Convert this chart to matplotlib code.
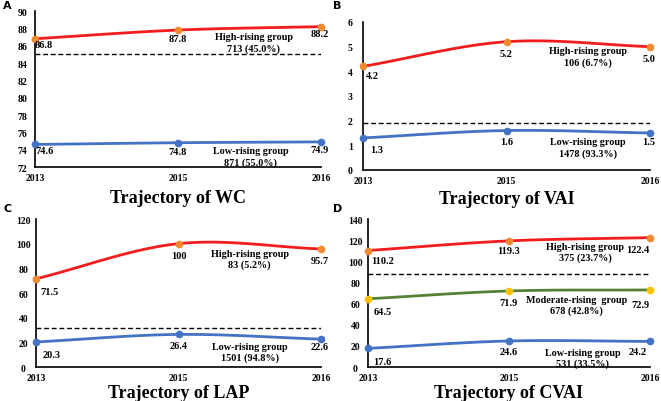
import numpy as np
import matplotlib
matplotlib.use("Agg")
import matplotlib.pyplot as plt

years = ["2013", "2015", "2016"]

wc_high = [86.8, 87.8, 88.2]
wc_low = [74.6, 74.8, 74.9]
vai_high = [4.2, 5.2, 5.0]
vai_low = [1.3, 1.6, 1.5]
lap_high = [71.5, 100, 95.7]
lap_low = [20.3, 26.4, 22.6]
cvai_high = [110.2, 119.3, 122.4]
cvai_mod = [64.5, 71.9, 72.9]
cvai_low = [17.6, 24.6, 24.2]

wc_groups = ["High-rising group\n713 (45.0%)", "Low-rising group\n871 (55.0%)"]
vai_groups = ["High-rising group\n106 (6.7%)", "Low-rising group\n1478 (93.3%)"]
lap_groups = ["High-rising group\n83 (5.2%)", "Low-rising group\n1501 (94.8%)"]
cvai_groups = ["High-rising group\n375 (23.7%)", "Moderate-rising  group\n678 (42.8%)",
               "Low-rising group\n531 (33.5%)"]

cutoffs = {"WC": 85, "VAI": 1.9, "LAP": 31.5, "CVAI": 88}

SERIF = "Liberation Serif"
RED = "#f21c1c"
ORANGE = "#f08a30"
BLUE = "#4472c4"
GREEN = "#548235"
YELLOW = "#ffc000"

W, H = 661, 402
fig = plt.figure(figsize=(W / 100, H / 100), dpi=100)


def smooth(xs, ys, n=40):
    xs = np.asarray(xs, float)
    ys = np.asarray(ys, float)
    P = np.stack([xs, ys], axis=1)
    k = len(P)
    T = np.zeros_like(P)
    for i in range(k):
        if i == 0:
            T[i] = (P[1] - P[0])
        elif i == k - 1:
            T[i] = (P[-1] - P[-2])
        else:
            T[i] = (P[i + 1] - P[i - 1]) / 2
    out = []
    t = np.linspace(0, 1, n)
    h00 = 2 * t**3 - 3 * t**2 + 1
    h10 = t**3 - 2 * t**2 + t
    h01 = -2 * t**3 + 3 * t**2
    h11 = t**3 - t**2
    for i in range(k - 1):
        seg = (h00[:, None] * P[i] + h10[:, None] * T[i]
               + h01[:, None] * P[i + 1] + h11[:, None] * T[i + 1])
        out.append(seg)
    out = np.concatenate(out)
    return out[:, 0], out[:, 1]


def make_ax(px_left, px_top, px_right, px_bottom):
    return fig.add_axes([px_left / W, 1 - px_bottom / H,
                         (px_right - px_left) / W, (px_bottom - px_top) / H])


def style(ax, ylim, yticks, title, letter, title_y, letter_xy):
    ax.set_xlim(0, 2)
    ax.set_ylim(*ylim)
    ax.set_yticks(yticks)
    ax.set_xticks([0, 1, 2])
    ax.set_xticklabels(years)
    for s in ["top", "right"]:
        ax.spines[s].set_visible(False)
    for s in ["left", "bottom"]:
        ax.spines[s].set_linewidth(1.2)
    ax.tick_params(length=0)
    for lab in ax.get_xticklabels() + ax.get_yticklabels():
        lab.set_fontfamily(SERIF)
        lab.set_fontweight("bold")
        lab.set_fontsize(7)
    ax.tick_params(axis="x", pad=4)
    ax.tick_params(axis="y", pad=9)
    for lab in ax.get_yticklabels():
        lab.set_horizontalalignment("center")
    bb = ax.get_position()
    fig.text(bb.x0 + bb.width / 2, 1 - title_y / H, title, ha="center", va="center",
             fontfamily=SERIF, fontweight="bold", fontsize=13)
    fig.text(letter_xy[0] / W, 1 - letter_xy[1] / H, letter, ha="left", va="center",
             fontfamily="DejaVu Sans", fontweight="bold", fontsize=8)


def series(ax, vals, lc, mc, offsets):
    x = np.arange(len(vals))
    sx, sy = smooth(x, vals)
    ax.plot(sx, sy, color=lc, lw=2.0, solid_capstyle="round", zorder=3, clip_on=False)
    ax.plot(x, vals, "o", color=mc, ms=4.5, zorder=4, clip_on=False)
    for xi, v, (dx, dy, ha) in zip(x, vals, offsets):
        txt = f"{v:g}" if v == int(v) and v >= 100 else f"{v:.1f}"
        ax.annotate(txt, (xi, v), xytext=(dx, dy), textcoords="offset points",
                    ha=ha, va="top", fontfamily=SERIF, fontweight="bold", fontsize=7.5,
                    zorder=5, annotation_clip=False)


def group_label(ax, x, y, text):
    ax.text(x, y, text, ha="center", va="center", fontfamily=SERIF,
            fontweight="bold", fontsize=7.3, linespacing=1.3, zorder=5)


def cutoff(ax, y):
    ax.axhline(y, color="black", lw=1.0, ls=(0, (3.5, 2)), zorder=2)


# Panel A
axA = make_ax(35, 12, 321, 168)
style(axA, (72, 90), range(72, 91, 2), "Trajectory of WC", "A", 199, (3, 6))
cutoff(axA, cutoffs["WC"])
series(axA, wc_high, RED, ORANGE, [(0, -1, "left"), (0, -3, "center"), (-1, -2, "center")])
series(axA, wc_low, BLUE, BLUE, [(0, -1, "left"), (0, -3, "center"), (-1, -2, "center")])
group_label(axA, 1.53, 86.4, wc_groups[0])
group_label(axA, 1.51, 73.2, wc_groups[1])

# Panel B
axB = make_ax(363, 23, 650, 171)
style(axB, (0, 6), range(0, 7), "Trajectory of VAI", "B", 200, (333, 6))
cutoff(axB, cutoffs["VAI"])
series(axB, vai_high, RED, ORANGE, [(2, -3, "left"), (0, -5, "center"), (-1, -5, "center")])
series(axB, vai_low, BLUE, BLUE, [(5, -5, "left"), (0, -5, "center"), (-1, -3, "center")])
group_label(axB, 1.57, 4.6, vai_groups[0])
group_label(axB, 1.57, 0.9, vai_groups[1])

# Panel C
axC = make_ax(36, 220, 321, 368)
style(axC, (0, 120), range(0, 121, 20), "Trajectory of LAP", "C", 394, (3, 209))
cutoff(axC, cutoffs["LAP"])
series(axC, lap_high, RED, ORANGE, [(3, -6, "left"), (0, -5, "center"), (-1, -5, "center")])
series(axC, lap_low, BLUE, BLUE, [(5, -6, "left"), (0, -5, "center"), (-1, -2, "center")])
group_label(axC, 1.50, 87.6, lap_groups[0])
group_label(axC, 1.50, 12.1, lap_groups[1])

# Panel D
axD = make_ax(368, 220, 650, 368)
style(axD, (0, 140), range(0, 141, 20), "Trajectory of CVAI", "D", 394, (333, 209))
cutoff(axD, cutoffs["CVAI"])
series(axD, cvai_high, RED, ORANGE, [(2, -4, "left"), (0, -4, "center"), (-9, -5, "center")])
series(axD, cvai_mod, GREEN, YELLOW, [(4, -6, "left"), (0, -5, "center"), (-7, -7, "center")])
series(axD, cvai_low, BLUE, BLUE, [(4, -6, "left"), (0, -4, "center"), (-9, -4, "center")])
group_label(axD, 1.54, 108.8, cvai_groups[0])
group_label(axD, 1.48, 58.6, cvai_groups[1])
group_label(axD, 1.52, 8.5, cvai_groups[2])

fig.savefig("out.png", dpi=100)
